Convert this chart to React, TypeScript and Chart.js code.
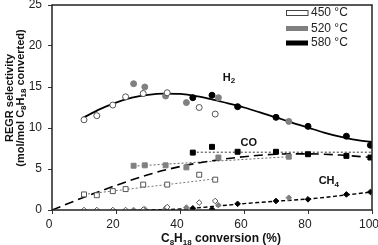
import React, { useEffect, useRef } from "react";
import { Chart, registerables } from "chart.js";
Chart.register(...registerables);

// ---- data ----
const xTicks = [0, 20, 40, 60, 80, 100];
const yTicks = [0, 5, 10, 15, 20, 25];
const temps = ["450 °C", "520 °C", "580 °C"];

const x450 = [10, 14, 19, 23, 28.5, 36, 46, 51];
const h2_450 = [11.0, 11.5, 12.8, 13.8, 14.2, 14.3, 12.5, 11.7];
const co_450 = [1.9, 1.8, 2.3, 2.55, 3.1, 3.1, 4.3, 3.7];
const ch4_450 = [0, 0, 0, 0, 0.05, 0.35, 0.9, 1.1];

const x520 = [25.5, 29, 35.5, 42, 52, 74];
const h2_520 = [15.4, 15.0, 13.9, 13.1, 13.7, 10.8];
const co_520 = [5.4, 5.45, 5.45, 5.2, 6.4, 6.5];
const ch4_520 = [0, 0.1, 0.2, 0.3, 0.6, 1.5];

const x580 = [44, 50, 58, 70, 80, 92, 99.5];
const h2_580 = [13.7, 14.0, 12.6, 11.3, 10.2, 9.0, 7.9];
const co_580 = [7.0, 7.7, 7.1, 7.1, 6.8, 6.6, 6.4];
const ch4_580 = [0.2, 0.1, 0.75, 1.1, 1.3, 1.9, 2.2];

// trend curves
const h2FitX = [9.5, 15, 20, 25, 30, 35, 40, 45, 50, 55, 60, 65, 70, 75, 80, 85, 90, 95, 100];
const h2FitY = [11.2, 12.3, 13.1, 13.7, 14.05, 14.2, 14.15, 13.9, 13.5, 13.0, 12.5, 11.9, 11.3, 10.65, 10.05, 9.45, 8.95, 8.55, 8.3];
const coFitX = [0, 10, 20, 30, 40, 50, 60, 70, 80, 90, 100];
const coFitY = [0, 1.55, 3.0, 4.3, 5.3, 6.0, 6.5, 6.8, 6.85, 6.7, 6.4];
const ch4FitX = [25, 35, 40, 45, 50, 55, 60, 65, 70, 75, 80, 85, 90, 95, 100];
const ch4FitY = [0, 0.05, 0.12, 0.25, 0.42, 0.6, 0.78, 0.93, 1.07, 1.2, 1.35, 1.52, 1.75, 1.97, 2.2];
const co450LineX = [10, 51];
const co450LineY = [1.9, 3.8];
const co520LineX = [25.5, 74];
const co520LineY = [5.35, 6.5];
const co580LineX = [44, 100];
const co580LineY = [7.05, 7.05];

const pts = (xs: number[], ys: number[]) => xs.map((x, i) => ({ x, y: ys[i] }));

const FONT = "'Liberation Sans', Arial, Helvetica, sans-serif";

type Run = { t: string; sub?: boolean };
function drawRich(ctx: CanvasRenderingContext2D, runs: Run[], cx: number, cy: number, size: number, bold: boolean) {
  const w = (r: Run) => {
    ctx.font = `${bold ? "bold " : ""}${r.sub ? Math.round(size * 0.7) : size}px ${FONT}`;
    return ctx.measureText(r.t).width;
  };
  const total = runs.reduce((s, r) => s + w(r), 0);
  let x = cx - total / 2;
  ctx.textAlign = "left";
  ctx.textBaseline = "middle";
  for (const r of runs) {
    const ww = w(r);
    ctx.fillText(r.t, x, r.sub ? cy + size * 0.3 : cy);
    x += ww;
  }
}

const overlay = {
  id: "overlay",
  afterDraw(chart: any) {
    const { ctx, chartArea: a, scales } = chart;
    const sx = scales.x, sy = scales.y;
    ctx.save();
    // plot frame
    ctx.strokeStyle = "#222";
    ctx.lineWidth = 1.5;
    ctx.strokeRect(a.left, a.top, a.right - a.left, a.bottom - a.top);

    ctx.fillStyle = "#111";
    // species labels
    drawRich(ctx, [{ t: "H" }, { t: "2", sub: true }], sx.getPixelForValue(55.3), sy.getPixelForValue(16.1), 11, true);
    drawRich(ctx, [{ t: "CO" }], sx.getPixelForValue(61.5), sy.getPixelForValue(8.2), 11, true);
    drawRich(ctx, [{ t: "CH" }, { t: "4", sub: true }], sx.getPixelForValue(86.5), sy.getPixelForValue(3.5), 11, true);

    // legend
    const fills = ["#ffffff", "#808080", "#000000"];
    const rowsY = [13, 28.5, 43];
    const lx = a.right - 86;
    temps.forEach((t, i) => {
      ctx.fillStyle = fills[i];
      ctx.fillRect(lx, rowsY[i] - 2.5, 22, 5);
      if (i === 0) {
        ctx.strokeStyle = "#444";
        ctx.lineWidth = 1;
        ctx.strokeRect(lx + 0.5, rowsY[i] - 2.5, 21.5, 5);
      }
      ctx.fillStyle = "#222";
      ctx.font = `12px ${FONT}`;
      ctx.textAlign = "left";
      ctx.textBaseline = "middle";
      ctx.fillText(t, lx + 25, rowsY[i]);
    });

    // x title
    ctx.fillStyle = "#111";
    drawRich(ctx, [{ t: "C" }, { t: "8", sub: true }, { t: "H" }, { t: "18", sub: true }, { t: " conversion (%)" }], 221, 239, 12, true);

    // y title
    ctx.save();
    ctx.translate(9.5, 98);
    ctx.rotate(-Math.PI / 2);
    drawRich(ctx, [{ t: "REGR selectivity" }], 0, 0, 11, true);
    ctx.restore();
    ctx.save();
    ctx.translate(20.5, 98);
    ctx.rotate(-Math.PI / 2);
    drawRich(ctx, [{ t: "(mol/mol C" }, { t: "8", sub: true }, { t: "H" }, { t: "18", sub: true }, { t: " converted)" }], 0, 0, 11, true);
    ctx.restore();
    ctx.restore();
  },
};

export default function App() {
  const ref = useRef<HTMLCanvasElement>(null);
  useEffect(() => {
    if (!ref.current) return;
    const open = { backgroundColor: "#ffffff", borderColor: "#555", pointBorderWidth: 1 };
    const grey = { backgroundColor: "#808080", borderColor: "#808080", pointBorderWidth: 1 };
    const black = { backgroundColor: "#000000", borderColor: "#000000", pointBorderWidth: 1 };
    const mk = (label: string, data: any, style: any, ps: string, r: number) => ({
      label, data, ...style, pointStyle: ps, pointRadius: r, showLine: false, order: 0,
    });
    const line = (label: string, data: any, color: string, width: number, dash: number[]) => ({
      label, data, showLine: true, pointRadius: 0, borderColor: color, borderWidth: width,
      borderDash: dash, tension: 0.4, cubicInterpolationMode: "monotone", fill: false, order: 1,
    });
    const chart = new Chart(ref.current, {
      type: "scatter",
      data: {
        datasets: [
          mk("H2 450", pts(x450, h2_450), open, "circle", 3),
          mk("H2 520", pts(x520, h2_520), grey, "circle", 3),
          mk("H2 580", pts(x580, h2_580), black, "circle", 3),
          mk("CO 450", pts(x450, co_450), open, "rect", 3.5),
          mk("CO 520", pts(x520, co_520), grey, "rect", 3.5),
          mk("CO 580", pts(x580, co_580), black, "rect", 3.5),
          mk("CH4 450", pts(x450, ch4_450), open, "rectRot", 2.8),
          mk("CH4 520", pts(x520, ch4_520), grey, "rectRot", 2.8),
          mk("CH4 580", pts(x580, ch4_580), black, "rectRot", 2.8),
          line("H2 fit", pts(h2FitX, h2FitY), "#000", 1.8, []),
          line("CO fit", pts(coFitX, coFitY), "#000", 1.6, [9, 5]),
          line("CH4 fit", pts(ch4FitX, ch4FitY), "#000", 1.4, [4, 2.5]),
          line("CO 450 trend", pts(co450LineX, co450LineY), "#777", 1, [2, 2]),
          line("CO 520 trend", pts(co520LineX, co520LineY), "#666", 1, [2, 2]),
          line("CO 580 trend", pts(co580LineX, co580LineY), "#333", 1, [2, 2]),
        ] as any,
      },
      options: {
        animation: false,
        responsive: true,
        maintainAspectRatio: false,
        layout: { padding: { left: 0, right: 6, top: 5, bottom: 0 } },
        plugins: { legend: { display: false }, tooltip: { enabled: false } },
        scales: {
          x: {
            type: "linear",
            min: 0,
            max: 100,
            afterBuildTicks: (s: any) => { s.ticks = xTicks.map((v) => ({ value: v })); },
            afterFit: (s: any) => { s.height = 35; s.paddingLeft = 0; s.paddingRight = 0; },
            grid: { drawOnChartArea: false, drawTicks: true, tickLength: 4, color: "#333" },
            border: { display: false },
            ticks: { padding: 3, labelOffset: -3, color: "#222", font: { family: FONT, size: 12 }, maxRotation: 0 },
          },
          y: {
            type: "linear",
            min: 0,
            max: 25,
            afterBuildTicks: (s: any) => { s.ticks = yTicks.map((v) => ({ value: v })); },
            afterFit: (s: any) => { s.width = 52; s.paddingTop = 0; s.paddingBottom = 0; },
            grid: { drawOnChartArea: false, drawTicks: true, tickLength: 4, color: "#333" },
            border: { display: false },
            ticks: { padding: 6, color: "#222", font: { family: FONT, size: 12 } },
          },
        },
      } as any,
      plugins: [overlay],
    });
    return () => chart.destroy();
  }, []);
  return (
    <div style={{ position: "fixed", left: 0, top: 0, width: 378, height: 245, background: "#fff" }}>
      <canvas ref={ref} />
    </div>
  );
}
